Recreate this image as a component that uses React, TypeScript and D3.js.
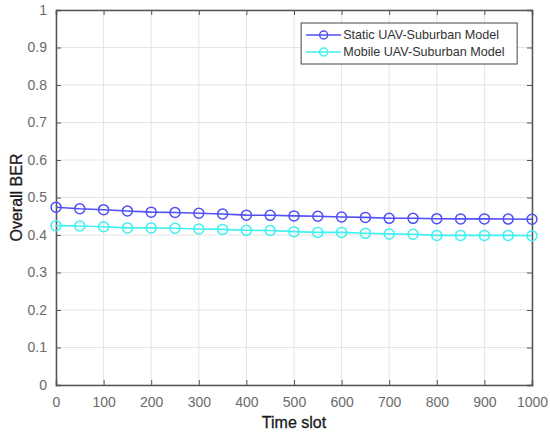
import { useEffect, useRef } from 'react'
import * as d3 from 'd3'

const timeSlots = [0, 50, 100, 150, 200, 250, 300, 350, 400, 450, 500, 550, 600, 650, 700, 750, 800, 850, 900, 950, 1000]
const staticBer = [0.474, 0.470, 0.4675, 0.464, 0.461, 0.460, 0.458, 0.456, 0.453, 0.4525, 0.451, 0.450, 0.448, 0.447, 0.4445, 0.4445, 0.4435, 0.443, 0.443, 0.4425, 0.442]
const mobileBer = [0.425, 0.424, 0.422, 0.419, 0.419, 0.418, 0.416, 0.415, 0.4125, 0.412, 0.409, 0.407, 0.407, 0.4045, 0.403, 0.402, 0.399, 0.399, 0.399, 0.399, 0.398]
const xTicks = [0, 100, 200, 300, 400, 500, 600, 700, 800, 900, 1000]
const yTicks = [0, 0.1, 0.2, 0.3, 0.4, 0.5, 0.6, 0.7, 0.8, 0.9, 1]
const seriesNames = ['Static UAV-Suburban Model', 'Mobile UAV-Suburban Model']
const seriesColors = ['#4f4ff5', '#3ff0f0']

export default function App() {
  const svgRef = useRef<SVGSVGElement>(null)

  useEffect(() => {
    if (!svgRef.current) return
    const svg = d3.select(svgRef.current)
    svg.selectAll('*').remove()

    const W = 550
    const H = 435
    const margin = { top: 10, right: 18, bottom: 50, left: 56 }
    const width = W - margin.left - margin.right
    const height = H - margin.top - margin.bottom
    const font = 'Arial, "Liberation Sans", sans-serif'

    svg.attr('width', W).attr('height', H)
    svg.append('rect').attr('width', W).attr('height', H).attr('fill', '#fff')

    const g = svg.append('g').attr('transform', `translate(${margin.left},${margin.top})`)

    const x = d3.scaleLinear().domain([0, 1000]).range([0, width])
    const y = d3.scaleLinear().domain([0, 1]).range([height, 0])

    // grid
    g.append('g')
      .selectAll('line')
      .data(xTicks)
      .enter()
      .append('line')
      .attr('x1', d => x(d))
      .attr('x2', d => x(d))
      .attr('y1', 0)
      .attr('y2', height)
      .attr('stroke', '#e3e3e3')
    g.append('g')
      .selectAll('line')
      .data(yTicks)
      .enter()
      .append('line')
      .attr('y1', d => y(d))
      .attr('y2', d => y(d))
      .attr('x1', 0)
      .attr('x2', width)
      .attr('stroke', '#e3e3e3')

    // axes (MATLAB style, ticks inward, box on)
    const axisColor = '#555'
    const xAxis = g.append('g')
      .attr('transform', `translate(0,${height})`)
      .call(d3.axisBottom(x).tickValues(xTicks).tickSize(-5).tickPadding(12).tickFormat(d3.format('d')))
    const yAxis = g.append('g')
      .call(d3.axisLeft(y).tickValues(yTicks).tickSize(-5).tickPadding(9).tickFormat(d => String(+d)))
    const xTop = g.append('g')
      .call(d3.axisTop(x).tickValues(xTicks).tickSize(-5).tickFormat(() => ''))
    const yRight = g.append('g')
      .attr('transform', `translate(${width},0)`)
      .call(d3.axisRight(y).tickValues(yTicks).tickSize(-5).tickFormat(() => ''))

    for (const a of [xAxis, yAxis, xTop, yRight]) {
      a.selectAll('.domain').attr('stroke', axisColor).attr('stroke-width', 1.5)
      a.selectAll('.tick line').attr('stroke', axisColor)
      a.selectAll('text')
        .attr('fill', '#6b6b6b')
        .attr('font-family', font)
        .attr('font-size', '14px')
    }

    // series
    const seriesData = [staticBer, mobileBer]
    const line = d3.line<number>()
      .x((_, i) => x(timeSlots[i]))
      .y(d => y(d))

    seriesData.forEach((vals, si) => {
      g.append('path')
        .datum(vals)
        .attr('fill', 'none')
        .attr('stroke', seriesColors[si])
        .attr('stroke-width', 1.6)
        .attr('d', line)
      g.append('g')
        .selectAll('circle')
        .data(vals)
        .enter()
        .append('circle')
        .attr('cx', (_, i) => x(timeSlots[i]))
        .attr('cy', d => y(d))
        .attr('r', 5)
        .attr('fill', 'none')
        .attr('stroke', seriesColors[si])
        .attr('stroke-width', 1.5)
    })

    // legend
    const lg = g.append('g').attr('transform', `translate(${x(515)},${13})`)
    lg.append('rect')
      .attr('width', 216)
      .attr('height', 41)
      .attr('fill', '#fff')
      .attr('stroke', '#444')
      .attr('stroke-width', 1)
    seriesNames.forEach((name, i) => {
      const cy = 12 + i * 17
      lg.append('line')
        .attr('x1', 5).attr('x2', 40)
        .attr('y1', cy).attr('y2', cy)
        .attr('stroke', seriesColors[i])
        .attr('stroke-width', 1.5)
      lg.append('circle')
        .attr('cx', 22.5).attr('cy', cy).attr('r', 4)
        .attr('fill', 'none')
        .attr('stroke', seriesColors[i])
        .attr('stroke-width', 1.5)
      lg.append('text')
        .attr('x', 42).attr('y', cy)
        .attr('dy', '0.35em')
        .attr('font-family', font)
        .attr('font-size', '12.6px')
        .attr('fill', '#333')
        .text(name)
    })

    // axis labels
    svg.append('text')
      .attr('x', margin.left + width / 2)
      .attr('y', 428)
      .attr('text-anchor', 'middle')
      .attr('font-family', font)
      .attr('font-size', '16px')
      .attr('fill', '#1a1a1a')
      .attr('stroke', '#1a1a1a')
      .attr('stroke-width', 0.3)
      .text('Time slot')
    svg.append('text')
      .attr('transform', `translate(22,${margin.top + height / 2}) rotate(-90)`)
      .attr('text-anchor', 'middle')
      .attr('font-family', font)
      .attr('font-size', '16px')
      .attr('fill', '#1a1a1a')
      .attr('stroke', '#1a1a1a')
      .attr('stroke-width', 0.3)
      .text('Overall BER')
  }, [])

  return (
    <div style={{ position: 'absolute', left: 0, top: 0 }}>
      <svg ref={svgRef}></svg>
    </div>
  )
}
